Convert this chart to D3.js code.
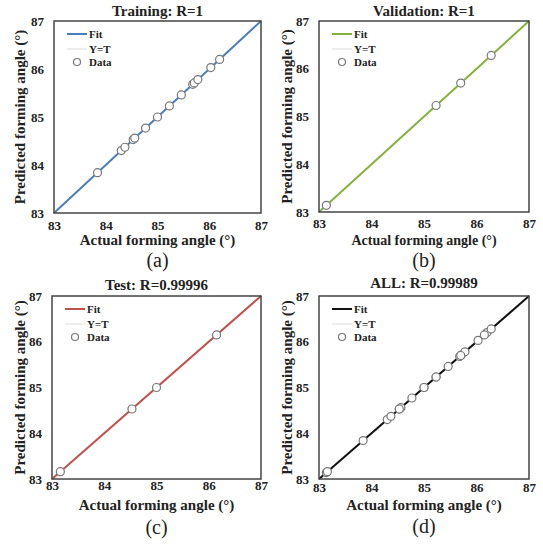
<!DOCTYPE html>
<html>
<head>
<meta charset="utf-8">
<script src="https://cdn.jsdelivr.net/npm/d3@7"></script>
<style>
  body { margin: 0; background: #fff; }
  text { font-family: "Liberation Serif", "Times New Roman", serif; }
</style>
</head>
<body>
<div id="chart"></div>
<script>
// actual / predicted forming angle values
const trainActual = [83.84, 84.30, 84.37, 84.53, 84.56, 84.77, 85.00, 85.23, 85.46, 85.68, 85.71, 85.78, 86.03, 86.20];
const trainPred   = [83.84, 84.30, 84.37, 84.53, 84.56, 84.77, 85.00, 85.23, 85.46, 85.68, 85.71, 85.78, 86.03, 86.20];
const valActual = [83.14, 85.23, 85.70, 86.28];
const valPred   = [83.14, 85.23, 85.70, 86.28];
const testActual = [83.16, 84.53, 85.00, 86.15];
const testPred   = [83.16, 84.53, 85.00, 86.15];
const axisTicks = [83, 84, 85, 86, 87];
const fitEnds = [83, 87];
const legendLabels = ['Fit', 'Y=T', 'Data'];

const allActual = trainActual.concat(valActual, testActual);
const allPred = trainPred.concat(valPred, testPred);

const panels = [
  { title: 'Training: R=1', tag: '(a)', color: '#4a7ebb', xs: trainActual, ys: trainPred,
    box: { x0: 54, x1: 261, y0: 21, y1: 213 }, titleY: 16, xlabY: 245, xlabSize: 15, tagY: 267, ylabX: 20, tickPad: 8 },
  { title: 'Validation: R=1', tag: '(b)', color: '#86b23c', xs: valActual, ys: valPred,
    box: { x0: 319, x1: 529, y0: 21, y1: 212 }, titleY: 16, xlabY: 245, xlabSize: 14, tagY: 267, ylabX: 287, tickPad: 7 },
  { title: 'Test: R=0.99996', tag: '(c)', color: '#c0504d', xs: testActual, ys: testPred,
    box: { x0: 52, x1: 261, y0: 296, y1: 479 }, titleY: 290, xlabY: 510, xlabSize: 15, tagY: 534, ylabX: 20, tickPad: 2 },
  { title: 'ALL: R=0.99989', tag: '(d)', color: '#111', xs: allActual, ys: allPred,
    box: { x0: 319, x1: 529, y0: 296, y1: 479 }, titleY: 288, xlabY: 510, xlabSize: 15, tagY: 533, ylabX: 287, tickPad: 4 }
];

const svg = d3.select('#chart').append('svg')
  .attr('width', 543)
  .attr('height', 544);

panels.forEach(function (p) {
  const b = p.box;
  const x = d3.scaleLinear().domain([83, 87]).range([b.x0, b.x1]);
  const y = d3.scaleLinear().domain([83, 87]).range([b.y1, b.y0]);
  const g = svg.append('g');
  const cx = (b.x0 + b.x1) / 2;
  const cy = (b.y0 + b.y1) / 2;

  // axes (labels only, no tick marks)
  const xAxis = d3.axisBottom(x).tickValues(axisTicks).tickSize(0).tickPadding(p.tickPad).tickFormat(d3.format('d'));
  const yAxis = d3.axisLeft(y).tickValues(axisTicks).tickSize(0).tickPadding(10).tickFormat(d3.format('d'));
  g.append('g').attr('transform', `translate(0, ${b.y1})`).call(xAxis);
  g.append('g').attr('transform', `translate(${b.x0}, 0)`).call(yAxis);
  g.selectAll('.domain').remove();
  g.selectAll('.tick text')
    .attr('font-family', '"Liberation Serif", serif')
    .attr('font-weight', 'bold')
    .attr('font-size', 13)
    .attr('fill', '#222');

  // Y=T line
  g.append('line')
    .attr('x1', x(fitEnds[0])).attr('y1', y(fitEnds[0]))
    .attr('x2', x(fitEnds[1])).attr('y2', y(fitEnds[1]))
    .attr('stroke', '#ddd').attr('stroke-width', 1);

  // fit line
  g.append('line')
    .attr('x1', x(fitEnds[0])).attr('y1', y(fitEnds[0]))
    .attr('x2', x(fitEnds[1])).attr('y2', y(fitEnds[1]))
    .attr('stroke', p.color).attr('stroke-width', 2);

  // data circles
  g.selectAll('circle.pt')
    .data(p.xs.map(function (d, i) { return [d, p.ys[i]]; }))
    .enter().append('circle')
    .attr('class', 'pt')
    .attr('cx', function (d) { return x(d[0]); })
    .attr('cy', function (d) { return y(d[1]); })
    .attr('r', 4)
    .attr('fill', '#fff')
    .attr('stroke', '#777')
    .attr('stroke-width', 1.2);

  // frame
  g.append('rect')
    .attr('x', b.x0).attr('y', b.y0)
    .attr('width', b.x1 - b.x0).attr('height', b.y1 - b.y0)
    .attr('fill', 'none').attr('stroke', '#444').attr('stroke-width', 1.5);

  // legend
  const lg = g.append('g').attr('transform', `translate(${b.x0 + 13}, ${b.y0 + 13})`);
  lg.append('line').attr('x1', 0).attr('x2', 20).attr('y1', 0).attr('y2', 0)
    .attr('stroke', p.color).attr('stroke-width', 2);
  lg.append('line').attr('x1', 0).attr('x2', 20).attr('y1', 15).attr('y2', 15)
    .attr('stroke', '#ddd').attr('stroke-width', 1);
  lg.append('circle').attr('cx', 10).attr('cy', 28).attr('r', 3.5)
    .attr('fill', '#fff').attr('stroke', '#777').attr('stroke-width', 1.2);
  lg.selectAll('text.lg')
    .data(legendLabels)
    .enter().append('text')
    .attr('class', 'lg')
    .attr('x', 22)
    .attr('y', function (d, i) { return [0, 15, 28][i] + 4; })
    .attr('font-size', 11)
    .attr('font-weight', 'bold')
    .attr('fill', '#222')
    .text(function (d) { return d; });

  // title
  g.append('text')
    .attr('x', cx).attr('y', p.titleY)
    .attr('text-anchor', 'middle')
    .attr('font-size', 15).attr('font-weight', 'bold').attr('fill', '#222')
    .text(p.title);

  // axis labels
  g.append('text')
    .attr('x', cx).attr('y', p.xlabY)
    .attr('text-anchor', 'middle')
    .attr('font-size', p.xlabSize).attr('font-weight', 'bold').attr('fill', '#222')
    .text('Actual forming angle (°)');
  g.append('text')
    .attr('transform', `translate(${p.ylabX}, ${cy}) rotate(-90)`)
    .attr('text-anchor', 'middle')
    .attr('dy', '0.35em')
    .attr('font-size', 15).attr('font-weight', 'bold').attr('fill', '#222')
    .text('Predicted forming angle (°)');

  // panel tag
  g.append('text')
    .attr('x', cx).attr('y', p.tagY)
    .attr('text-anchor', 'middle')
    .attr('font-size', 20).attr('fill', '#222')
    .text(p.tag);
});
</script>
</body>
</html>
